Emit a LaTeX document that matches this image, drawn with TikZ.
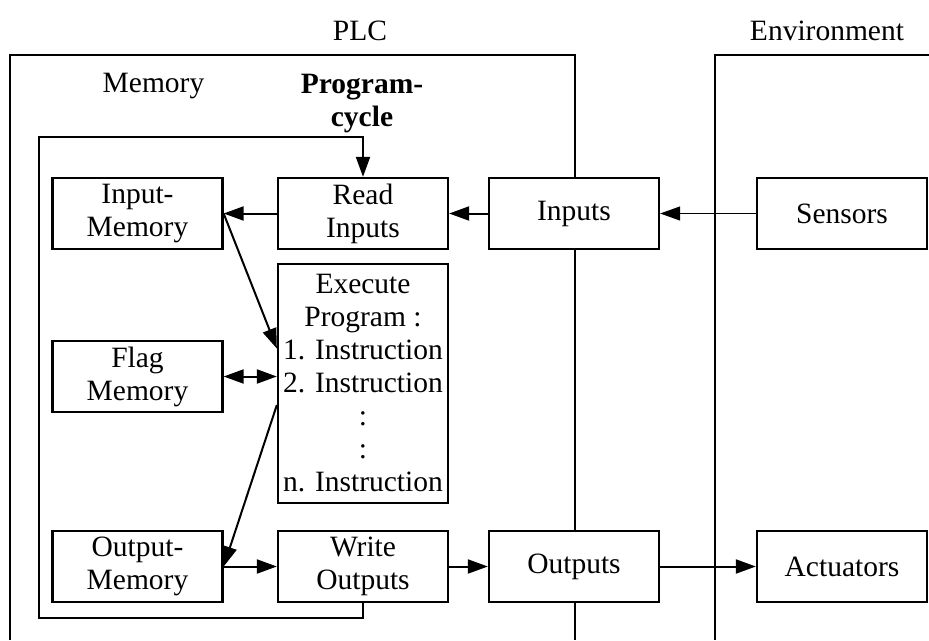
\documentclass[tikz,border=0pt]{standalone}
\usepackage{fontspec}
\setmainfont{Liberation Serif}
\usetikzlibrary{arrows.meta}
\begin{document}
\begin{tikzpicture}[x=1pt,y=-1pt,
  frame/.style={line width=2.3pt},
  blk/.style={draw, fill=white, line width=2.3pt, minimum width=170pt,
    minimum height=71pt, inner sep=0pt, align=center},
  tip/.style={-{Triangle[length=20pt,width=14pt]}},
  conn/.style={line width=2pt, tip},
  thinconn/.style={line width=1.2pt, tip},
  every node/.style={font=\fontsize{29.5}{33}\selectfont}]
\useasboundingbox (0,0) rectangle (929,640);
% outer frames: PLC and environment
\draw[frame] (10,640) -- (10,55) -- (575,55) -- (575,640);
\draw[frame] (929,55) -- (715,55) -- (715,640);
% headings
\node (plc) at (360,31) {PLC};
\node (env) at (827,31) {Environment};
\node (memlbl) at (153.5,86) {Memory};
\node[font=\fontsize{29.5}{33}\selectfont\bfseries, align=center] (cyclbl) at (362,104) {Program-\\cycle};
% blocks
\node[blk] (im) at (137.5,213.5) {Input-\\Memory};
\node[blk] (ri) at (363,213.5) {Read\\Inputs};
\node[blk] (in) at (574,213.5) {Inputs};
\node[blk] (se) at (842,213.5) {Sensors};
\node[blk] (fm) at (137.5,376.5) {Flag\\Memory};
\node[blk, minimum height=239pt] (ex) at (363,383.5) {Execute\\Program :\\1. Instruction\\2. Instruction\\:\\:\\n. Instruction};
\node[blk] (om) at (137.5,566.5) {Output-\\Memory};
\node[blk] (wo) at (363,566.5) {Write\\Outputs};
\node[blk] (ou) at (574,566.5) {Outputs};
\node[blk] (ac) at (842,566.5) {Actuators};
% program cycle loop
\coordinate (loopbl) at (39,618);
\coordinate (looptl) at (39,137);
\draw[conn] (wo.south) |- (loopbl) -- (looptl) -| (ri.north);
% data flow
\draw[thinconn] (se.west) -- (in.east);
\draw[conn] (in.west) -- (ri.east);
\draw[conn] (ri.west) -- (im.east);
\draw[conn] (im.east) -- ([yshift=35pt]ex.west);
\draw[line width=2pt, {Triangle[length=20pt,width=14pt]}-{Triangle[length=20pt,width=14pt]}] (fm.east) -- (fm.east -| ex.west);
\draw[conn] ([yshift=-21.5pt]ex.west) -- (om.east);
\draw[conn] (om.east) -- (wo.west);
\draw[conn] (wo.east) -- (ou.west);
\draw[conn] (ou.east) -- (ac.west);
\end{tikzpicture}
\end{document}
